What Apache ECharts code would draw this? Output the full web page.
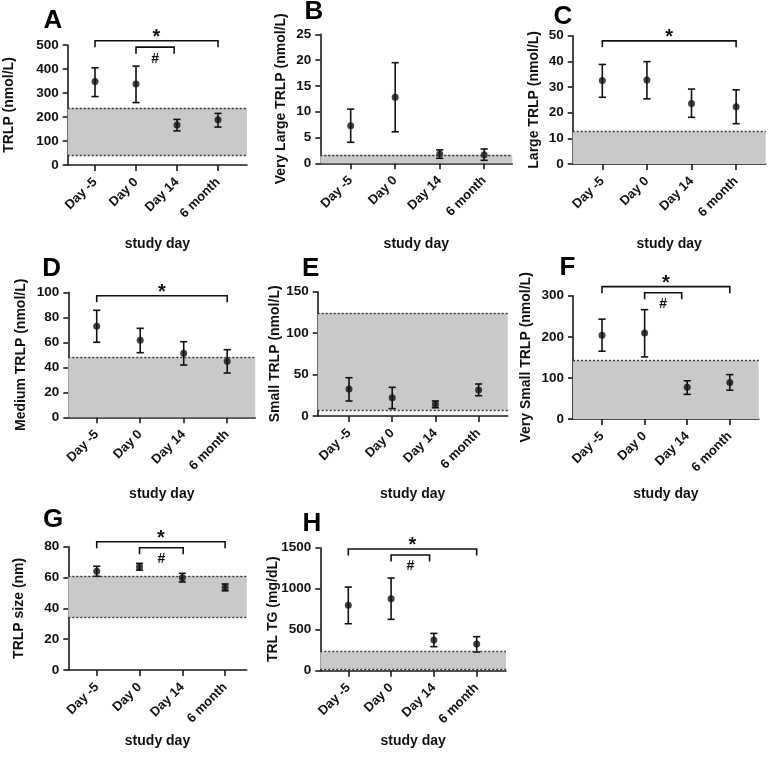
<!DOCTYPE html>
<html>
<head>
<meta charset="utf-8">
<script src="https://cdn.jsdelivr.net/npm/echarts@6/dist/echarts.min.js"></script>
<style>
html,body{margin:0;padding:0;background:#fff;}
#chart{width:768px;height:759px;}
</style>
</head>
<body>
<div id="chart"></div>
<script>
// ---------- data ----------
const categories = ['Day -5', 'Day 0', 'Day 14', '6 month'];
const xTicks = [0, 1, 2, 3];

const meanA = [348, 337, 167, 189];
const lowA  = [285, 260, 142, 158];
const highA = [405, 412, 190, 215];
const bandA = [40, 237];
const bracketsA = [[0, 3, 518, '*'], [1, 1.93, 491, '#']];

const meanB = [7.3, 12.8, 1.8, 1.67];
const lowB  = [4.07, 6.1, 0.97, 0.58];
const highB = [10.5, 19.5, 2.6, 2.77];
const bandB = [0, 1.65];
const bracketsB = [];

const meanC = [32.5, 32.7, 23.6, 22.3];
const lowC  = [26, 25.4, 18.2, 15.7];
const highC = [38.8, 39.9, 29.2, 28.9];
const bandC = [0, 12.6];
const bracketsC = [[0, 3, 48, '*']];

const meanD = [72.8, 61.6, 51.2, 44.8];
const lowD  = [60, 51.7, 41.8, 35.4];
const highD = [85.6, 71.2, 60.5, 54.1];
const bandD = [0, 48];
const bracketsD = [[0, 3, 97.3, '*']];

const meanE = [32.6, 22.1, 14.1, 31.4];
const lowE  = [18.1, 8.9, 10, 24.5];
const highE = [46.2, 34.6, 18.1, 38.6];
const bandE = [7, 124];
const bracketsE = [];

const meanF = [204, 209, 77, 89];
const lowF  = [165, 151, 60, 70];
const highF = [243, 266, 93, 108];
const bandF = [0, 143];
const bracketsF = [[0, 3, 322, '*'], [1, 1.87, 307, '#']];

const meanG = [64, 67, 59.9, 53.6];
const lowG  = [60.8, 64.8, 57.1, 51.4];
const highG = [67.3, 69.2, 62.7, 55.8];
const bandG = [34, 61];
const bracketsG = [[0, 3, 83.2, '*'], [1, 2.02, 79.3, '#']];

const meanH = [797, 878, 374, 325];
const lowH  = [573, 626, 293, 228];
const highH = [1020, 1130, 455, 415];
const bandH = [17, 232];
const bracketsH = [[0, 3, 1484, '*'], [1, 1.9, 1411, '#']];

const panelLetters = ['A', 'B', 'C', 'D', 'E', 'F', 'G', 'H'];
const yNames = ['TRLP (nmol/L)', 'Very Large TRLP (nmol/L)', 'Large TRLP (nmol/L)',
  'Medium TRLP (nmol/L)', 'Small TRLP (nmol/L)', 'Very Small TRLP (nmol/L)',
  'TRLP size (nm)', 'TRL TG (mg/dL)'];
const yMaxes = [500, 25, 50, 100, 150, 300, 80, 1500];
const yIntervals = [100, 5, 10, 20, 50, 100, 20, 500];
const xName = 'study day';

const panels = [
  [meanA, lowA, highA, bandA, bracketsA],
  [meanB, lowB, highB, bandB, bracketsB],
  [meanC, lowC, highC, bandC, bracketsC],
  [meanD, lowD, highD, bandD, bracketsD],
  [meanE, lowE, highE, bandE, bracketsE],
  [meanF, lowF, highF, bandF, bracketsF],
  [meanG, lowG, highG, bandG, bracketsG],
  [meanH, lowH, highH, bandH, bracketsH]
];

// ---------- layout (positions / sizes) ----------
const layout = [
  {left: 67.7, top: 45,    width: 179.3, height: 120,   xMin: -0.666, xMax: 3.707, yGap: 51.7, xGap: 72,   title: [53, 20]},
  {left: 320.3, top: 34.3, width: 192,   height: 129,   xMin: -0.683, xMax: 3.632, yGap: 32.3, xGap: 73.7, title: [314, 11]},
  {left: 572.7, top: 35.7, width: 193,   height: 128.3, xMin: -0.664, xMax: 3.663, yGap: 31.2, xGap: 73,   title: [563, 15.5]},
  {left: 68.3, top: 292.3, width: 187,   height: 125,   xMin: -0.653, xMax: 3.646, yGap: 40.3, xGap: 70,   title: [51.7, 267.5]},
  {left: 317.7, top: 291.7, width: 190,  height: 124.3, xMin: -0.725, xMax: 3.673, yGap: 35.7, xGap: 71,   title: [310.7, 268]},
  {left: 573, top: 295.7,  width: 185.7, height: 123.3, xMin: -0.681, xMax: 3.678, yGap: 40,   xGap: 68,   title: [567.5, 266.5]},
  {left: 68.3, top: 546.7, width: 178.4, height: 123.3, xMin: -0.664, xMax: 3.504, yGap: 42.3, xGap: 64,   title: [53, 519]},
  {left: 320.3, top: 547.7, width: 185.7, height: 123,  xMin: -0.654, xMax: 3.685, yGap: 39.8, xGap: 63,   title: [312, 523]}
];

const FONT = '"Liberation Sans", Arial, Helvetica, sans-serif';
const INK = '#111';
const AXIS = '#1a1a1a';
const BAND = '#c9c9c9';

const grids = [], xAxes = [], yAxes = [], series = [], graphics = [];

panels.forEach(function (p, i) {
  const L = layout[i];
  const mean = p[0], low = p[1], high = p[2], band = p[3], brackets = p[4];

  grids.push({left: L.left, top: L.top, width: L.width, height: L.height,
    containLabel: false, outerBoundsMode: 'none'});

  xAxes.push({
    gridIndex: i, type: 'value', min: L.xMin, max: L.xMax,
    name: xName, nameLocation: 'middle', nameGap: L.xGap, nameMoveOverlap: false,
    nameTextStyle: {fontFamily: FONT, fontWeight: 'bold', fontSize: 14, color: INK},
    axisLine: {show: true, onZero: false, lineStyle: {color: AXIS, width: 1.6}},
    axisTick: {show: true, inside: false, length: 6, customValues: xTicks, lineStyle: {color: AXIS, width: 1.6}},
    axisLabel: {show: true, customValues: xTicks, rotate: 45, margin: 15,
      fontFamily: FONT, fontWeight: 'bold', fontSize: 13, color: INK,
      formatter: function (v) { return categories[Math.round(v)]; }},
    splitLine: {show: false}
  });

  yAxes.push({
    gridIndex: i, type: 'value', min: 0, max: yMaxes[i], interval: yIntervals[i],
    name: yNames[i], nameLocation: 'middle', nameGap: L.yGap, nameRotate: 90, nameMoveOverlap: false,
    nameTextStyle: {fontFamily: FONT, fontWeight: 'bold', fontSize: 14, color: INK},
    axisLine: {show: true, onZero: false, lineStyle: {color: AXIS, width: 1.6}},
    axisTick: {show: true, inside: false, length: 5, lineStyle: {color: AXIS, width: 1.6}},
    axisLabel: {show: true, margin: 9, fontFamily: FONT, fontWeight: 'bold', fontSize: 13.5, color: INK,
      formatter: function (v) { return String(v); }},
    splitLine: {show: false}
  });

  const bandLines = [{yAxis: band[1]}];
  if (band[0] > 0) bandLines.push({yAxis: band[0]});

  // error bars (+ reference band)
  series.push({
    type: 'custom', xAxisIndex: i, yAxisIndex: i, z: 3,
    encode: {x: 0, y: [1, 2]},
    data: mean.map(function (m, k) { return [k, low[k], high[k]]; }),
    markArea: {silent: true, itemStyle: {color: BAND}, data: [[{yAxis: band[0]}, {yAxis: band[1]}]]},
    markLine: {silent: true, symbol: 'none', label: {show: false},
      lineStyle: {color: '#333', type: [2, 2], width: 1.4}, data: bandLines},
    renderItem: function (params, api) {
      const x = api.value(0);
      const pLo = api.coord([x, api.value(1)]);
      const pHi = api.coord([x, api.value(2)]);
      const w = 3.6;
      const st = {stroke: INK, lineWidth: 1.6};
      return {type: 'group', children: [
        {type: 'line', shape: {x1: pLo[0], y1: pLo[1], x2: pHi[0], y2: pHi[1]}, style: st},
        {type: 'line', shape: {x1: pHi[0] - w, y1: pHi[1], x2: pHi[0] + w, y2: pHi[1]}, style: st},
        {type: 'line', shape: {x1: pLo[0] - w, y1: pLo[1], x2: pLo[0] + w, y2: pLo[1]}, style: st}
      ]};
    }
  });

  // means
  series.push({
    type: 'scatter', xAxisIndex: i, yAxisIndex: i, z: 4,
    symbol: 'circle', symbolSize: 7,
    itemStyle: {color: INK},
    data: mean.map(function (m, k) { return [k, m]; })
  });

  // significance brackets
  if (brackets.length) {
    series.push({
      type: 'custom', xAxisIndex: i, yAxisIndex: i, z: 5, clip: false,
      encode: {x: [0, 1], y: 2},
      data: brackets.map(function (b) { return [b[0], b[1], b[2]]; }),
      renderItem: function (params, api) {
        const b = brackets[params.dataIndex];
        const p1 = api.coord([api.value(0), api.value(2)]);
        const p2 = api.coord([api.value(1), api.value(2)]);
        const t = 6.5;
        const isStar = b[3] === '*';
        return {type: 'group', children: [
          {type: 'polyline', shape: {points: [[p1[0], p1[1] + t], [p1[0], p1[1]], [p2[0], p1[1]], [p2[0], p1[1] + t]]},
            style: {stroke: INK, lineWidth: 1.6, fill: null}},
          {type: 'text', x: (p1[0] + p2[0]) / 2, y: isStar ? p1[1] - 3.5 : p1[1] + 11.5,
            style: {text: b[3], fill: INK, align: 'center', verticalAlign: 'middle',
              font: 'bold ' + (isStar ? 20 : 14) + 'px ' + FONT}}
        ]};
      }
    });
  }

  graphics.push({type: 'text', x: L.title[0], y: L.title[1] + 1,
    style: {text: panelLetters[i], fill: '#000', align: 'center', verticalAlign: 'middle',
      font: 'bold 26px ' + FONT}});
});

const chart = echarts.init(document.getElementById('chart'), null, {renderer: 'canvas'});
chart.setOption({
  backgroundColor: '#fff',
  animation: false,
  grid: grids,
  xAxis: xAxes,
  yAxis: yAxes,
  series: series,
  graphic: graphics
});
</script>
</body>
</html>
